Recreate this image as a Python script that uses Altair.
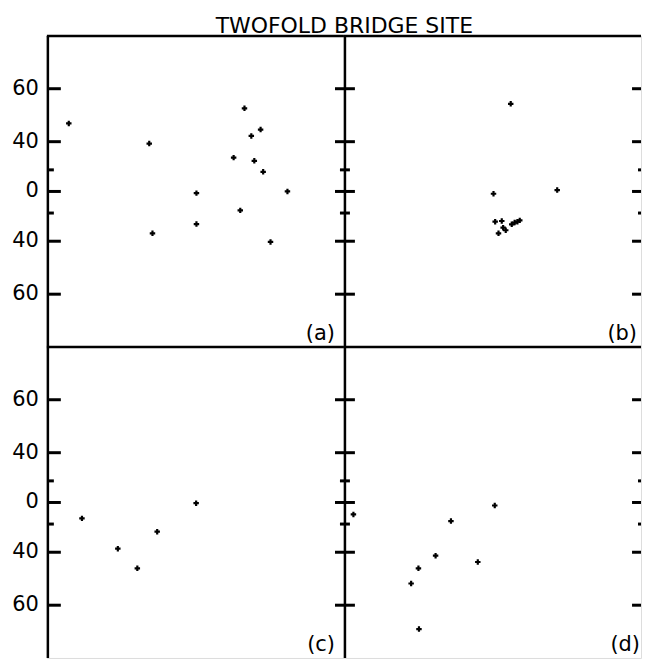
import math
import altair as alt
import pandas as pd

# ---- data (degrees) ----
a_dec = [-64.9, -37.9, 39.6, 47.7, 43.3, 32.8, 44.8, 48.8, 1.0, 57.2, 37.1, 1.0, -35.9, 51.7]
a_inc = [48.9, 38.9, 54.5, 46.2, 43.1, 29.7, 27.3, 18.3, -1.6, 0.0, -17.7, -28.8, -35.2, -40.4]
b_dec = [17.1, 1.0, 47.5, 2.6, 8.9, 5.8, 10.2, 12.6, 18.0, 20.5, 22.8, 24.7]
b_inc = [55.9, -2.2, 1.3, -27.0, -26.5, -35.2, -31.4, -33.2, -29.0, -27.7, -27.0, -26.0]
c_dec = [-62.4, -52.6, -44.4, -32.8, 0.7]
c_inc = [-15.0, -37.9, -48.0, -26.2, -0.7]
d_dec = [-66.9, -35.0, 2.2, -43.8, -51.3, -13.9, -53.9, -51.1]
d_inc = [-11.4, -17.4, -2.9, -41.9, -48.0, -45.1, -53.8, -64.9]

major_ticks = [60, 40, 0, -40, -60]
major_labels = ["60", "40", "0", "40", "60"]
minor_ticks = [20, -20]
panel_labels = ["(a)", "(b)", "(c)", "(d)"]
title_text = "TWOFOLD BRIDGE SITE"

# ---- styling ----
FONT = "DejaVu Sans"
W, H = 298, 312
K = 59.5  # pixels per unit of tan(angle)
XL = (W / 2) / K
YL = (H / 2) / K
TAN = "tan(datum.{f} * PI / 180)"

xs = alt.Scale(domain=[-XL, XL], nice=False, zero=False)
ys = alt.Scale(domain=[-YL, YL], nice=False, zero=False)
one = pd.DataFrame({"k": [0]})


def tick_layer(vals, x1, x2, width):
    df = pd.DataFrame({"v": vals})
    return (
        alt.Chart(df)
        .transform_calculate(tv=TAN.format(f="v"))
        .mark_rule(color="black", strokeWidth=width, strokeCap="butt")
        .encode(y=alt.Y("tv:Q", scale=ys, axis=None), x=alt.value(x1), x2=alt.value(x2))
    )


def tick_labels():
    df = pd.DataFrame({"v": major_ticks, "lab": major_labels})
    return (
        alt.Chart(df)
        .transform_calculate(tv=TAN.format(f="v"))
        .mark_text(align="right", baseline="middle", fontSize=21, font=FONT, color="black")
        .encode(y=alt.Y("tv:Q", scale=ys, axis=None), x=alt.value(-8), text="lab:N")
    )


def panel(dec, inc, label, left, lab_dx, lab_dy):
    pts = pd.DataFrame({"dec": dec, "inc": inc})
    points = (
        alt.Chart(pts)
        .transform_calculate(tx=TAN.format(f="dec"), ty=TAN.format(f="inc"))
        .mark_point(shape="cross", filled=True, size=30, color="black", opacity=1)
        .encode(
            x=alt.X("tx:Q", scale=xs, axis=None),
            y=alt.Y("ty:Q", scale=ys, axis=None),
        )
    )
    frame_left = alt.Chart(one).mark_rule(color="black", strokeWidth=2.5).encode(
        x=alt.value(1), y=alt.value(0), y2=alt.value(H))
    frame_top = alt.Chart(one).mark_rule(color="black", strokeWidth=2.5).encode(
        x=alt.value(0), x2=alt.value(W), y=alt.value(0))
    layers = [frame_left, frame_top]
    if left:
        layers += [
            tick_layer(major_ticks, 1, 14, 3), tick_layer(minor_ticks, 1, 7, 3),
            tick_labels(),
        ]
    else:
        layers += [
            tick_layer(major_ticks, -9, 11, 3), tick_layer(minor_ticks, -4, 6, 3),
            tick_layer(major_ticks, W - 9, W, 3), tick_layer(minor_ticks, W - 3, W, 3),
        ]
    text = alt.Chart(pd.DataFrame({"t": [label]})).mark_text(
        align="right", baseline="alphabetic", fontSize=21, font=FONT, color="black"
    ).encode(text="t:N", x=alt.value(W - lab_dx), y=alt.value(H - lab_dy))
    return alt.layer(points, *layers, text).properties(width=W, height=H)


pa = panel(a_dec, a_inc, panel_labels[0], True, 9, 7)
pb = panel(b_dec, b_inc, panel_labels[1], False, 4, 7)
pc = panel(c_dec, c_inc, panel_labels[2], True, 9, 7)
pd_ = panel(d_dec, d_inc, panel_labels[3], False, 1, 7)

chart = (
    alt.concat(pa, pb, pc, pd_, columns=2, spacing=0, bounds="flush")
    .properties(
        title=alt.TitleParams(text=title_text, fontSize=22, font=FONT, fontWeight="normal",
                              color="black", offset=-4, anchor="middle", dx=17),
        padding={"left": 3, "top": 6, "right": 0, "bottom": 0},
    )
    .configure_view(stroke=None)
    .configure(background="white")
)

chart.save("out.html", embed_options={"renderer": "svg", "actions": False})
